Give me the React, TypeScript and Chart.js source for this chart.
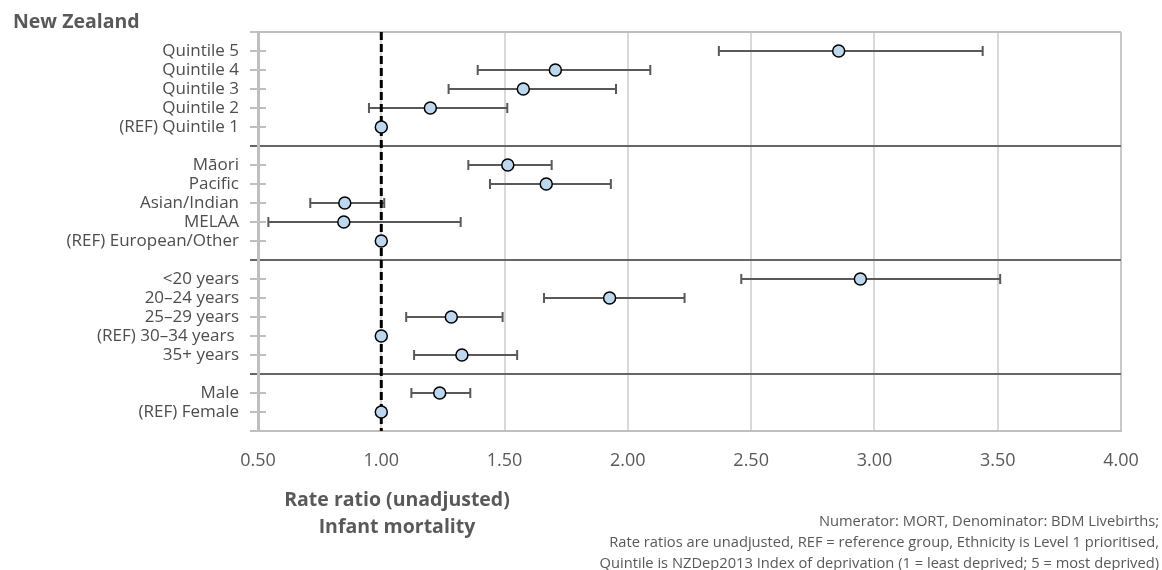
import React, { useEffect, useRef } from "react";
import { Chart, registerables } from "chart.js";

Chart.register(...registerables);

// ---- Data ----
const categories = [
  "Quintile 5",
  "Quintile 4",
  "Quintile 3",
  "Quintile 2",
  "(REF) Quintile 1",
  "Māori",
  "Pacific",
  "Asian/Indian",
  "MELAA",
  "(REF) European/Other",
  "<20 years",
  "20–24 years",
  "25–29 years",
  "(REF) 30–34 years ",
  "35+ years",
  "Male",
  "(REF) Female",
];
// slot positions on the category axis (gaps between the groups)
const rowPositions = [1, 2, 3, 4, 5, 7, 8, 9, 10, 11, 13, 14, 15, 16, 17, 19, 20];
const separatorPositions = [6, 12, 18];
const rateRatio = [
  2.855, 1.706, 1.576, 1.199, 1.0,
  1.513, 1.669, 0.852, 0.848, 1.0,
  2.943, 1.926, 1.284, 1.0, 1.327,
  1.237, 1.0,
];
const lowerCI: (number | null)[] = [
  2.369, 1.391, 1.273, 0.95, null,
  1.353, 1.441, 0.712, 0.542, null,
  2.46, 1.66, 1.101, null, 1.133,
  1.122, null,
];
const upperCI: (number | null)[] = [
  3.439, 2.091, 1.952, 1.511, null,
  1.691, 1.931, 1.012, 1.322, null,
  3.51, 2.23, 1.492, null, 1.551,
  1.361, null,
];
const xTicks = [0.5, 1.0, 1.5, 2.0, 2.5, 3.0, 3.5, 4.0];
const referenceValue = 1.0;
const yMin = 0;
const yMax = 21;

const chartTitle = "New Zealand";
const axisTitle = ["Rate ratio (unadjusted)", "Infant mortality"];
const footnote = [
  "Numerator: MORT, Denominator: BDM Livebirths;",
  "Rate ratios are unadjusted, REF = reference group, Ethnicity is Level 1 prioritised,",
  "Quintile is NZDep2013 Index of deprivation (1 = least deprived; 5 = most deprived)",
];

const TEXT = "#595959";
const FONT = '"Open Sans", "DejaVu Sans", sans-serif';

const decorPlugin = {
  id: "decor",
  beforeDatasetsDraw(chart: any) {
    const { ctx, chartArea, scales } = chart;
    ctx.save();
    ctx.strokeStyle = "#bfbfbf";
    ctx.lineWidth = 2;
    rowPositions.forEach((p) => {
      const y = Math.round(scales.y.getPixelForValue(p));
      ctx.beginPath();
      ctx.moveTo(chartArea.left, y);
      ctx.lineTo(chartArea.left + 8, y);
      ctx.stroke();
    });
    ctx.restore();
  },
  afterDraw(chart: any) {
    const { ctx } = chart;
    ctx.save();
    ctx.fillStyle = TEXT;
    ctx.textBaseline = "middle";
    ctx.font = `bold 19.5px ${FONT}`;
    ctx.textAlign = "left";
    ctx.fillText(chartTitle, 13, 22);
    ctx.textAlign = "center";
    ctx.fillText(axisTitle[0], 397, 500);
    ctx.fillText(axisTitle[1], 397, 527);
    ctx.font = `14.7px ${FONT}`;
    ctx.textAlign = "right";
    footnote.forEach((line, i) => ctx.fillText(line, 1159, 522 + i * 21));
    ctx.restore();
  },
};

export default function App() {
  const canvasRef = useRef<HTMLCanvasElement | null>(null);

  useEffect(() => {
    if (!canvasRef.current) return;

    const labelAt: Record<number, string> = {};
    rowPositions.forEach((p, i) => (labelAt[p] = categories[i]));

    const errorBarSets: any[] = [];
    rowPositions.forEach((p, i) => {
      const lo = lowerCI[i];
      const hi = upperCI[i];
      if (lo == null || hi == null) return;
      errorBarSets.push({
        type: "line",
        data: [
          { x: lo, y: p },
          { x: hi, y: p },
        ],
        borderColor: "#595959",
        borderWidth: 2,
        pointStyle: "line",
        pointRotation: 90,
        pointRadius: 5,
        pointBorderColor: "#595959",
        pointBorderWidth: 2,
        pointBackgroundColor: "#595959",
        order: 3,
      });
    });

    const chart = new Chart(canvasRef.current, {
      type: "scatter",
      data: {
        datasets: [
          {
            type: "scatter",
            data: rateRatio.map((v, i) => ({ x: v, y: rowPositions[i] })),
            pointRadius: 6,
            pointBackgroundColor: "#BDD7EE",
            pointBorderColor: "#000000",
            pointBorderWidth: 1.5,
            order: 0,
          } as any,
          {
            type: "line",
            data: [
              { x: referenceValue, y: yMin },
              { x: referenceValue, y: yMax },
            ],
            borderColor: "#000000",
            borderWidth: 3,
            borderDash: [8, 4],
            pointRadius: 0,
            order: 1,
          } as any,
          ...errorBarSets,
        ],
      },
      options: {
        animation: false,
        responsive: false,
        events: [],
        layout: { padding: { left: 0, right: 41, top: 32, bottom: 0 } },
        plugins: {
          legend: { display: false },
          tooltip: { enabled: false },
          title: { display: false },
        },
        scales: {
          x: {
            type: "linear",
            min: xTicks[0],
            max: xTicks[xTicks.length - 1],
            afterBuildTicks: (s: any) => {
              s.ticks = xTicks.map((v) => ({ value: v }));
            },
            afterFit: (s: any) => {
              s.height = 139;
            },
            ticks: {
              callback: (v: any) => Number(v).toFixed(2),
              color: TEXT,
              font: { family: FONT, size: 18 },
              padding: 19,
              autoSkip: false,
              maxRotation: 0,
            },
            grid: {
              color: (c: any) => (c.tick && c.tick.value === 4 ? "#c8c8c8" : "#d9d9d9"),
              lineWidth: 2,
              drawTicks: false,
            },
            border: { color: "#bfbfbf", width: 2 },
          },
          y: {
            type: "linear",
            reverse: true,
            min: yMin,
            max: yMax,
            afterBuildTicks: (s: any) => {
              const t: any[] = [];
              for (let v = yMin; v <= yMax; v++) t.push({ value: v });
              s.ticks = t;
            },
            afterFit: (s: any) => {
              s.width = 258;
            },
            ticks: {
              autoSkip: false,
              callback: (v: any) => labelAt[Number(v)] ?? "",
              color: "#4d4d4d",
              font: { family: FONT, size: 17 },
              padding: 11,
            },
            grid: {
              lineWidth: 2,
              tickLength: 8,
              color: (c: any) => {
                const v = c.tick ? c.tick.value : -1;
                if (separatorPositions.includes(v)) return "#666666";
                if (v === yMin || v === yMax) return "#bfbfbf";
                return "rgba(0,0,0,0)";
              },
              tickColor: (c: any) => {
                const v = c.tick ? c.tick.value : -1;
                if (separatorPositions.includes(v)) return "#666666";
                return "#bfbfbf";
              },
            },
            border: { color: "#bfbfbf", width: 3 },
          },
        },
      } as any,
      plugins: [decorPlugin as any],
    });

    return () => chart.destroy();
  }, []);

  return (
    <div style={{ position: "absolute", left: 0, top: 0, width: 1162, height: 570, background: "#fff" }}>
      <canvas ref={canvasRef} width={1162} height={570} style={{ display: "block" }} />
    </div>
  );
}
